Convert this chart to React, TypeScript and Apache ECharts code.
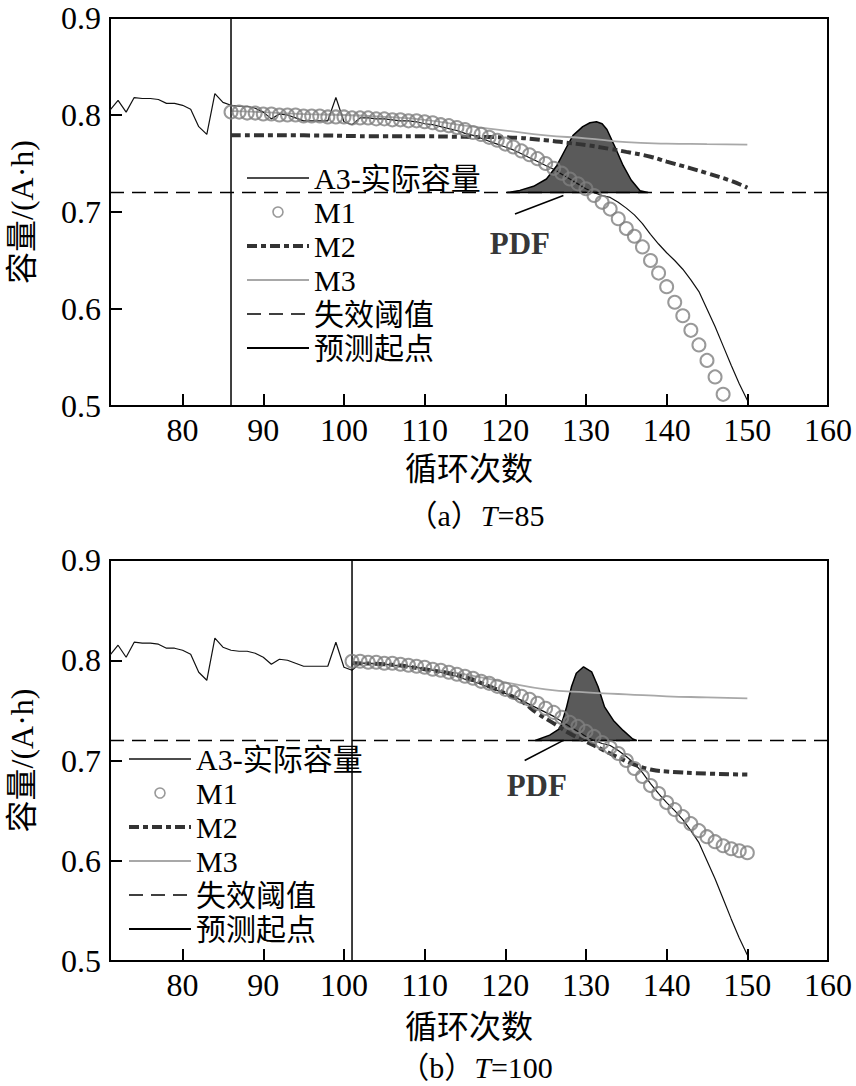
import React, { useEffect, useRef } from "react";
import * as echarts from "echarts";

const FONT = "'Liberation Serif', 'Times New Roman', 'Noto Sans CJK SC', serif";

// ---------- data ----------
const xMin = 71;
const xMax = 160;
const xTickValues = [80, 90, 100, 110, 120, 130, 140, 150, 160];
const yMin = 0.5;
const yMax = 0.9;
const yInterval = 0.1;
const threshold = 0.72;

const legendNames = ["A3-实际容量", "M1", "M2", "M3", "失效阈值", "预测起点"];
const captionsLetter = ["（a）", "（b）"];
const captionsT = ["=85", "=100"];

// A3 actual capacity, cycles 71..150
const actualStartCycle = 71;
const actualCapacity = [
  0.805, 0.815, 0.803, 0.818, 0.817, 0.817, 0.816, 0.812, 0.812, 0.81,
  0.806, 0.788, 0.78, 0.822, 0.813, 0.81, 0.809, 0.809, 0.807, 0.803,
  0.796, 0.801, 0.8, 0.797, 0.794, 0.794, 0.794, 0.794, 0.818, 0.793,
  0.79, 0.797, 0.797, 0.796, 0.796, 0.795, 0.794, 0.794, 0.793, 0.791,
  0.79, 0.788, 0.786, 0.784, 0.781, 0.779, 0.776, 0.773, 0.77, 0.767,
  0.764, 0.76, 0.756, 0.752, 0.748, 0.744, 0.739, 0.734, 0.729, 0.724,
  0.72, 0.717, 0.715, 0.71, 0.704, 0.697, 0.688, 0.677, 0.667, 0.658,
  0.65, 0.641, 0.63, 0.618, 0.6, 0.582, 0.562, 0.542, 0.523, 0.506,
];

// prediction start cycles
const predictStart = [86, 101];

// M1 (T=85), cycles 86..147
const m1TopStart = 86;
const m1Top = [
  0.803, 0.803, 0.802, 0.802, 0.801, 0.801, 0.8, 0.8, 0.8, 0.799,
  0.799, 0.799, 0.798, 0.798, 0.798, 0.797, 0.797, 0.797, 0.796, 0.796,
  0.795, 0.795, 0.794, 0.794, 0.793, 0.792, 0.79, 0.789, 0.787, 0.785,
  0.782, 0.78, 0.777, 0.774, 0.77, 0.767, 0.763, 0.759, 0.755, 0.75,
  0.745, 0.74, 0.734, 0.729, 0.724, 0.717, 0.71, 0.703, 0.693, 0.683,
  0.675, 0.664, 0.65, 0.637, 0.623, 0.607, 0.593, 0.578, 0.563, 0.547,
  0.53, 0.512,
];

// M1 (T=100), cycles 101..150
const m1BottomStart = 101;
const m1Bottom = [
  0.799, 0.799, 0.798, 0.798, 0.797, 0.797, 0.796, 0.795, 0.794, 0.793,
  0.791, 0.79, 0.788, 0.786, 0.784, 0.782, 0.779, 0.777, 0.774, 0.771,
  0.768, 0.764, 0.761, 0.757, 0.752, 0.748, 0.743, 0.738, 0.734, 0.729,
  0.724, 0.718, 0.713, 0.707, 0.7, 0.692, 0.684, 0.675, 0.667, 0.658,
  0.651, 0.644, 0.637, 0.63, 0.624, 0.619, 0.615, 0.612, 0.61, 0.608,
];

// M2 [cycle, capacity]
const m2Top = [
  [86, 0.779], [95, 0.779], [105, 0.778], [110, 0.778], [115, 0.7775],
  [120, 0.777], [125, 0.774], [128, 0.771], [130, 0.769], [133, 0.765],
  [135, 0.762], [138, 0.757], [140, 0.752], [143, 0.745], [145, 0.74],
  [148, 0.732], [150, 0.725],
];
const m2Bottom = [
  [101, 0.797], [105, 0.796], [110, 0.791], [115, 0.783], [118, 0.774],
  [120, 0.767], [122, 0.759], [124, 0.747], [126, 0.737], [128, 0.727],
  [130, 0.719], [132, 0.711], [134, 0.703], [136, 0.696], [138, 0.691],
  [140, 0.689], [145, 0.687], [150, 0.686],
];

// M3 [cycle, capacity]
const m3Top = [
  [86, 0.804], [90, 0.803], [95, 0.801], [100, 0.8], [105, 0.798],
  [110, 0.795], [115, 0.789], [120, 0.784], [125, 0.779], [130, 0.776],
  [135, 0.772], [140, 0.7705], [145, 0.77], [150, 0.7695],
];
const m3Bottom = [
  [101, 0.798], [105, 0.796], [110, 0.792], [115, 0.786], [120, 0.778],
  [125, 0.771], [130, 0.768], [135, 0.766], [140, 0.764], [145, 0.763],
  [150, 0.762],
];

// PDF outline [cycle, capacity-scale]
const pdfTop = [
  [120.2, 0.72], [121.8, 0.7223], [123.5, 0.7265], [125.1, 0.734], [126.4, 0.748],
  [127.6, 0.767], [128.4, 0.779], [129.6, 0.788], [130.5, 0.792], [131.3, 0.793],
  [132.0, 0.791], [132.6, 0.785], [133.6, 0.767], [134.6, 0.748], [135.6, 0.733],
  [136.7, 0.722], [137.7, 0.72], [120.2, 0.72],
];
const pdfBottom = [
  [123.7, 0.72], [125.5, 0.7253], [126.8, 0.732], [127.6, 0.7535], [128.2, 0.7735],
  [128.8, 0.787], [129.7, 0.7935], [130.7, 0.7885], [131.5, 0.7735], [132.3, 0.7535],
  [133.4, 0.74], [134.6, 0.73], [135.8, 0.7215], [136.3, 0.72], [123.7, 0.72],
];
const pdfPointerTop = [[121.2, 0.698], [127.2, 0.717]];
const pdfPointerBottom = [[122.4, 0.7], [127.2, 0.72]];
const pdfLabelTop = [121.8, 0.668];
const pdfLabelBottom = [123.9, 0.675];

// ---------- helpers ----------
const seq = (start: number, vals: number[]) => vals.map((v, i) => [start + i, v]);

const panels = [
  {
    actual: seq(actualStartCycle, actualCapacity),
    m1: seq(m1TopStart, m1Top),
    m2: m2Top,
    m3: m3Top,
    pdf: pdfTop,
    pointer: pdfPointerTop,
    label: pdfLabelTop,
    start: predictStart[0],
  },
  {
    actual: seq(actualStartCycle, actualCapacity),
    m1: seq(m1BottomStart, m1Bottom),
    m2: m2Bottom,
    m3: m3Bottom,
    pdf: pdfBottom,
    pointer: pdfPointerBottom,
    label: pdfLabelBottom,
    start: predictStart[1],
  },
];

const layout = [
  { grid: { left: 110, top: 18, width: 718, height: 388 }, nameGap: 47, legend: { left: 245, top: 163 }, caption: 515 },
  { grid: { left: 110, top: 560, width: 718, height: 401 }, nameGap: 50, legend: { left: 127, top: 744 }, caption: 1067 },
];

const NOSYM = "rgba(0,0,0,0)";
const M2_DASH = [10, 4, 5, 4];
const THRESH_DASH = [14, 8];

function buildOption() {
  const grid: any[] = [];
  const xAxis: any[] = [];
  const yAxis: any[] = [];
  const legend: any[] = [];
  const series: any[] = [];
  const graphic: any[] = [];

  panels.forEach((p, g) => {
    const L = layout[g];
    grid.push({
      ...L.grid,
      show: true,
      borderColor: "#000",
      borderWidth: 2,
      backgroundColor: "transparent",
      containLabel: false,
      outerBoundsMode: "none",
    });
    xAxis.push({
      gridIndex: g,
      type: "value",
      min: xMin,
      max: xMax,
      axisLine: { show: true, onZero: false, lineStyle: { color: "#000", width: 2 } },
      axisTick: { show: true, inside: true, length: 12, customValues: xTickValues, lineStyle: { color: "#000", width: 2 } },
      axisLabel: { customValues: xTickValues, color: "#000", fontFamily: FONT, fontSize: 32, margin: 8 },
      splitLine: { show: false },
      name: "循环次数",
      nameLocation: "middle",
      nameGap: L.nameGap,
      nameMoveOverlap: false,
      nameTextStyle: { color: "#000", fontFamily: FONT, fontSize: 32 },
    });
    yAxis.push({
      gridIndex: g,
      type: "value",
      min: yMin,
      max: yMax,
      interval: yInterval,
      axisLine: { show: true, onZero: false, lineStyle: { color: "#000", width: 2 } },
      axisTick: { show: true, inside: true, length: 12, lineStyle: { color: "#000", width: 2 } },
      axisLabel: {
        color: "#000",
        fontFamily: FONT,
        fontSize: 32,
        margin: 9,
        formatter: (v: number) => v.toFixed(1),
      },
      splitLine: { show: false },
      name: "容量/(A·h)",
      nameLocation: "middle",
      nameGap: 72,
      nameRotate: 90,
      nameMoveOverlap: false,
      nameTextStyle: { color: "#000", fontFamily: FONT, fontSize: 32 },
    });
    legend.push({
      orient: "vertical",
      left: L.legend.left,
      top: L.legend.top,
      itemWidth: 62,
      itemHeight: 10,
      itemGap: 4,
      selectedMode: false,
      padding: 0,
      textStyle: { color: "#000", fontFamily: FONT, fontSize: 30, lineHeight: 30 },
      data: [
        { name: legendNames[0], lineStyle: { color: "#111", width: 1.5 } },
        { name: legendNames[1], icon: "circle", itemStyle: { color: NOSYM, borderColor: "#808080", borderWidth: 1.6 } },
        { name: legendNames[2], lineStyle: { color: "#333", width: 4, type: M2_DASH } },
        { name: legendNames[3], lineStyle: { color: "#a8a8a8", width: 2 } },
        { name: legendNames[4], lineStyle: { color: "#000", width: 1.5, type: THRESH_DASH } },
        { name: legendNames[5], lineStyle: { color: "#000", width: 1.8 } },
      ],
    });

    const ax = { xAxisIndex: g, yAxisIndex: g };
    const lineBase = { type: "line", symbol: "circle", showSymbol: false, itemStyle: { color: NOSYM } };
    series.push({
      ...ax,
      type: "line",
      name: "PDF",
      data: p.pdf,
      symbol: "none",
      silent: true,
      lineStyle: { color: "#000", width: 1.5 },
      areaStyle: { color: "#5a5a5a", opacity: 1, origin: threshold },
      z: 1,
    });
    series.push({
      ...ax,
      ...lineBase,
      name: legendNames[3],
      data: p.m3,
      smooth: true,
      lineStyle: { color: "#a8a8a8", width: 1.8 },
      z: 3,
    });
    series.push({
      ...ax,
      ...lineBase,
      name: legendNames[0],
      data: p.actual,
      lineStyle: { color: "#111", width: 1.2 },
      z: 3,
    });
    series.push({
      ...ax,
      ...lineBase,
      name: legendNames[4],
      data: [[xMin, threshold], [xMax, threshold]],
      lineStyle: { color: "#000", width: 1.5, type: THRESH_DASH },
      z: 3,
    });
    series.push({
      ...ax,
      ...lineBase,
      name: legendNames[5],
      data: [[p.start, yMin], [p.start, yMax]],
      lineStyle: { color: "#000", width: 1.5 },
      z: 3,
    });
    series.push({
      ...ax,
      ...lineBase,
      name: legendNames[2],
      data: p.m2,
      smooth: true,
      lineStyle: { color: "#333", width: 4, type: M2_DASH },
      z: 4,
    });
    series.push({
      ...ax,
      type: "scatter",
      name: legendNames[1],
      data: p.m1,
      symbol: "circle",
      symbolSize: 13,
      itemStyle: { color: NOSYM, borderColor: "#808080", borderWidth: 2 },
      z: 5,
    });
    series.push({
      ...ax,
      type: "line",
      name: "PDF指示",
      data: p.pointer,
      symbol: "none",
      silent: true,
      lineStyle: { color: "#000", width: 1.5 },
      z: 5,
    });
    series.push({
      ...ax,
      type: "scatter",
      name: "PDF标签",
      data: [p.label],
      symbol: "circle",
      symbolSize: 1,
      silent: true,
      itemStyle: { color: NOSYM },
      label: {
        show: true,
        position: "inside",
        formatter: "PDF",
        color: "#000",
        fontFamily: FONT,
        fontSize: 31,
        fontWeight: "bold",
      },
      z: 6,
    });

    graphic.push({
      type: "text",
      x: 476,
      y: L.caption,
      style: {
        text: `{n|${captionsLetter[g]}}{i|T}{n|${captionsT[g]}}`,
        align: "center",
        verticalAlign: "middle",
        rich: {
          n: { fontFamily: FONT, fontSize: 30, fill: "#000" },
          i: { fontFamily: FONT, fontSize: 30, fontStyle: "italic", fill: "#000" },
        },
      },
    });
  });

  return {
    animation: false,
    backgroundColor: "#fff",
    grid,
    xAxis,
    yAxis,
    legend,
    series,
    graphic,
  };
}

export default function App() {
  const ref = useRef<HTMLDivElement>(null);
  useEffect(() => {
    document.body.style.margin = "0";
    if (!ref.current) return;
    const chart = echarts.init(ref.current, undefined, { renderer: "svg" });
    chart.setOption(buildOption() as any);
    return () => chart.dispose();
  }, []);
  return <div ref={ref} style={{ width: 856, height: 1086 }} />;
}
